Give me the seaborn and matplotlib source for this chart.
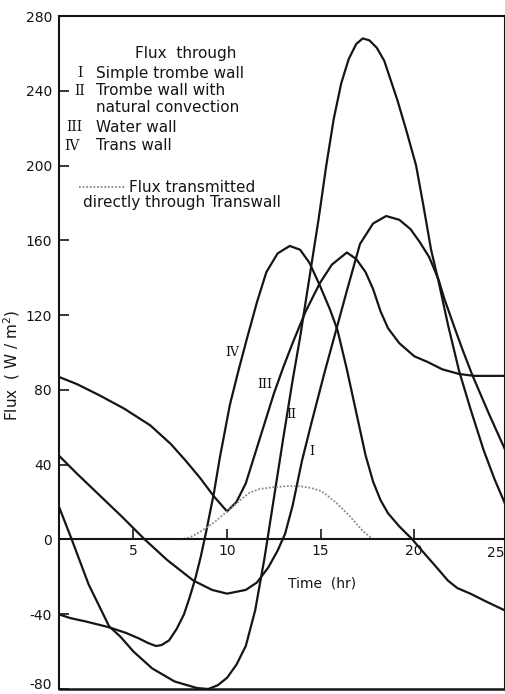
import numpy as np
import pandas as pd
import seaborn as sns
import matplotlib.pyplot as plt
from matplotlib.transforms import ScaledTranslation

# values (time in hr, flux in W/m2)
# I  simple trombe wall
t_1 = [1.0, 2.0, 3.2, 4.4, 5.6, 6.8, 8.2, 9.2, 10.0, 11.0, 11.6, 12.2, 12.7, 13.1,
       13.5, 14.0, 14.5, 15.2, 15.8, 16.4, 17.1, 17.8, 18.5, 19.2, 19.8, 20.3, 20.8,
       21.3, 21.6, 22.2, 22.6, 23.1, 24.0, 24.9]
flux_1 = [45, 35, 23.5, 12, 0, -11, -22, -27, -29, -27, -23, -15, -6, 3,
          18, 42, 62, 89, 111, 133, 158, 169, 173, 171, 166, 159, 151,
          139, 129, 112, 101, 88, 67, 47]

# II trombe wall with natural convection
t_2 = [1.0, 1.7, 2.6, 3.7, 4.3, 5.0, 6.0, 7.2, 8.4, 9.0, 9.5, 10.0, 10.5, 11.0,
       11.5, 12.0, 12.5, 13.0, 13.5, 13.9, 14.4, 14.9, 15.3, 15.7, 16.1, 16.5,
       16.9, 17.25, 17.6, 18.0, 18.4, 19.1, 19.6, 20.1, 20.5, 20.9, 21.3, 21.8,
       22.4, 23.0, 23.7, 24.3, 24.9]
flux_2 = [18, 0, -24, -46.5, -52, -60, -69, -76, -79.5, -80, -78, -74, -67, -57,
          -38, -10, 22, 54, 85, 108, 140, 172, 200, 225, 244, 257,
          265, 268, 267, 263, 256, 235, 218, 200, 178, 155, 138, 115,
          90, 70, 48, 32, 18]

# III water wall
t_3 = [1.0, 2.0, 3.2, 4.5, 5.9, 7.0, 7.8, 8.55, 9.3, 10.0, 10.5, 11.0, 11.5, 12.0,
       12.5, 13.0, 13.5, 14.2, 14.95, 15.6, 16.4, 16.9, 17.4, 17.8, 18.2, 18.6,
       19.2, 20.0, 20.7, 21.5, 22.4, 23.2, 24.0, 24.9]
flux_3 = [87, 83, 77, 70, 61, 51, 42, 33, 23, 15, 20, 30, 46, 62,
          78, 92, 105, 122, 137, 147, 153.5, 150, 143, 134, 122, 113,
          105, 98, 95, 91, 88.5, 87.5, 87.5, 87.5]

# IV trans wall
t_4 = [1.0, 1.6, 2.5, 3.7, 4.6, 5.3, 5.8, 6.2, 6.5, 6.9, 7.3, 7.7, 8.0, 8.3, 8.6,
       8.9, 9.3, 9.6, 10.15, 10.6, 11.05, 11.6, 12.1, 12.7, 13.35, 13.9, 14.4,
       14.95, 15.5, 15.9, 16.4, 16.9, 17.4, 17.8, 18.2, 18.6, 19.2, 19.9, 20.5,
       21.2, 21.8, 22.3, 23.0, 23.8, 24.85]
flux_4 = [-40, -42, -44, -47, -50, -53, -55.5, -57, -56.5, -54, -48, -40, -31, -21, -9,
          5, 25, 43, 72, 90, 107, 127, 143, 153, 157, 155, 148,
          136, 123, 112, 91, 68, 45, 31, 21, 14, 7, 0, -7,
          -15, -22, -26, -29, -33, -38]

# flux transmitted directly through transwall
t_direct = [7.5, 8.0, 8.55, 9.3, 10.0, 10.7, 11.2, 11.75, 12.5, 13.2, 13.9, 14.5,
            15.0, 15.3, 15.9, 16.6, 17.2, 17.8]
flux_direct = [0, 1, 4, 9, 15, 21, 25, 27, 28, 28.5, 28.5, 27.5,
               26, 24, 19, 12, 5, 0]

curves = [(t_1, flux_1), (t_2, flux_2), (t_3, flux_3), (t_4, flux_4)]
curve_names = ['I', 'II', 'III', 'IV']
name_pos = [(14.5, 47), (13.45, 67), (12.0, 83), (10.3, 100)]

legend_lines = ['Simple trombe wall', 'Trombe wall with', 'natural convection',
                'Water wall', 'Trans wall']
legend_nums = ['I', 'II', '', 'III', 'IV']

sns.set_style('ticks')
plt.rcParams['font.family'] = ['DejaVu Sans']
plt.rcParams['axes.unicode_minus'] = False

fig = plt.figure(figsize=(5.06, 6.94), dpi=100)
ax = fig.add_axes([59 / 506, 5 / 694, 446 / 506, 673 / 694])

for t, f in curves:
    sns.lineplot(x=t, y=f, ax=ax, color='#151515', lw=1.6, sort=False,
                 estimator=None)
sns.lineplot(x=t_direct, y=flux_direct, ax=ax, color='#8a8a8a', lw=1.3,
             sort=False, estimator=None, linestyle=(0, (1, 1)),
             label='Flux transmitted')

ax.set_xlim(1.02, 24.85)
ax.set_ylim(-80, 280)
ax.set_xticks([5, 10, 15, 20])
ax.set_yticks(np.arange(-80, 281, 40))

# x axis runs along zero flux, frame closed at -80
ax.spines['bottom'].set_position(('data', 0))
ax.axhline(-80, color='#151515', lw=1.8, clip_on=False)
for s in ['left', 'right', 'top', 'bottom']:
    ax.spines[s].set_color('#151515')
    ax.spines[s].set_linewidth(1.5)

ax.tick_params(axis='both', direction='in', length=7, width=1.2,
               labelsize=10, colors='#151515')
ax.tick_params(axis='x', pad=3)
ax.tick_params(axis='y', pad=5)
ax.text(24.85, -3.5, '25', ha='right', va='top', fontsize=10, color='#151515')

# lift the lowest label so it stays on the page
fig.canvas.draw()
low = ax.get_yticklabels()[0]
low.set_transform(low.get_transform() + ScaledTranslation(0, 4 / 72, fig.dpi_scale_trans))

ax.set_xlabel('')
ax.set_ylabel('Flux  ( W / m$^2$)', fontsize=11, color='#151515')
ax.yaxis.set_label_coords(-0.082, 0.48)
ax.text(15.05, -23.5, 'Time  (hr)', ha='center', va='center', fontsize=10,
        color='#151515')

# curve labels
for name, (x, y) in zip(curve_names, name_pos):
    ax.text(x, y, name, ha='center', va='center', fontsize=9,
            family='DejaVu Serif', color='#151515')

# legend block written as text
ax.text(0.285, 0.945, 'Flux  through', transform=ax.transAxes, ha='center',
        va='center', fontsize=11, color='#151515')
row_y = [0.915, 0.889, 0.864, 0.835, 0.807]
num_x = [0.047, 0.047, 0.047, 0.034, 0.029]
for txt, num, y, nx in zip(legend_lines, legend_nums, row_y, num_x):
    ax.text(0.083, y, txt, transform=ax.transAxes, ha='left', va='center',
            fontsize=11, color='#151515')
    if num:
        ax.text(nx, y, num, transform=ax.transAxes, ha='center', va='center',
                fontsize=10, family='DejaVu Serif', color='#151515')

ax.legend(loc='center left', bbox_to_anchor=(0.045, 0.745), frameon=False,
          fontsize=11, handlelength=3.0, handletextpad=0.25, borderpad=0,
          borderaxespad=0, labelcolor='#151515')
ax.text(0.054, 0.7226, 'directly through Transwall', transform=ax.transAxes,
        ha='left', va='center', fontsize=11, color='#151515')

fig.savefig('out.png', dpi=100)
